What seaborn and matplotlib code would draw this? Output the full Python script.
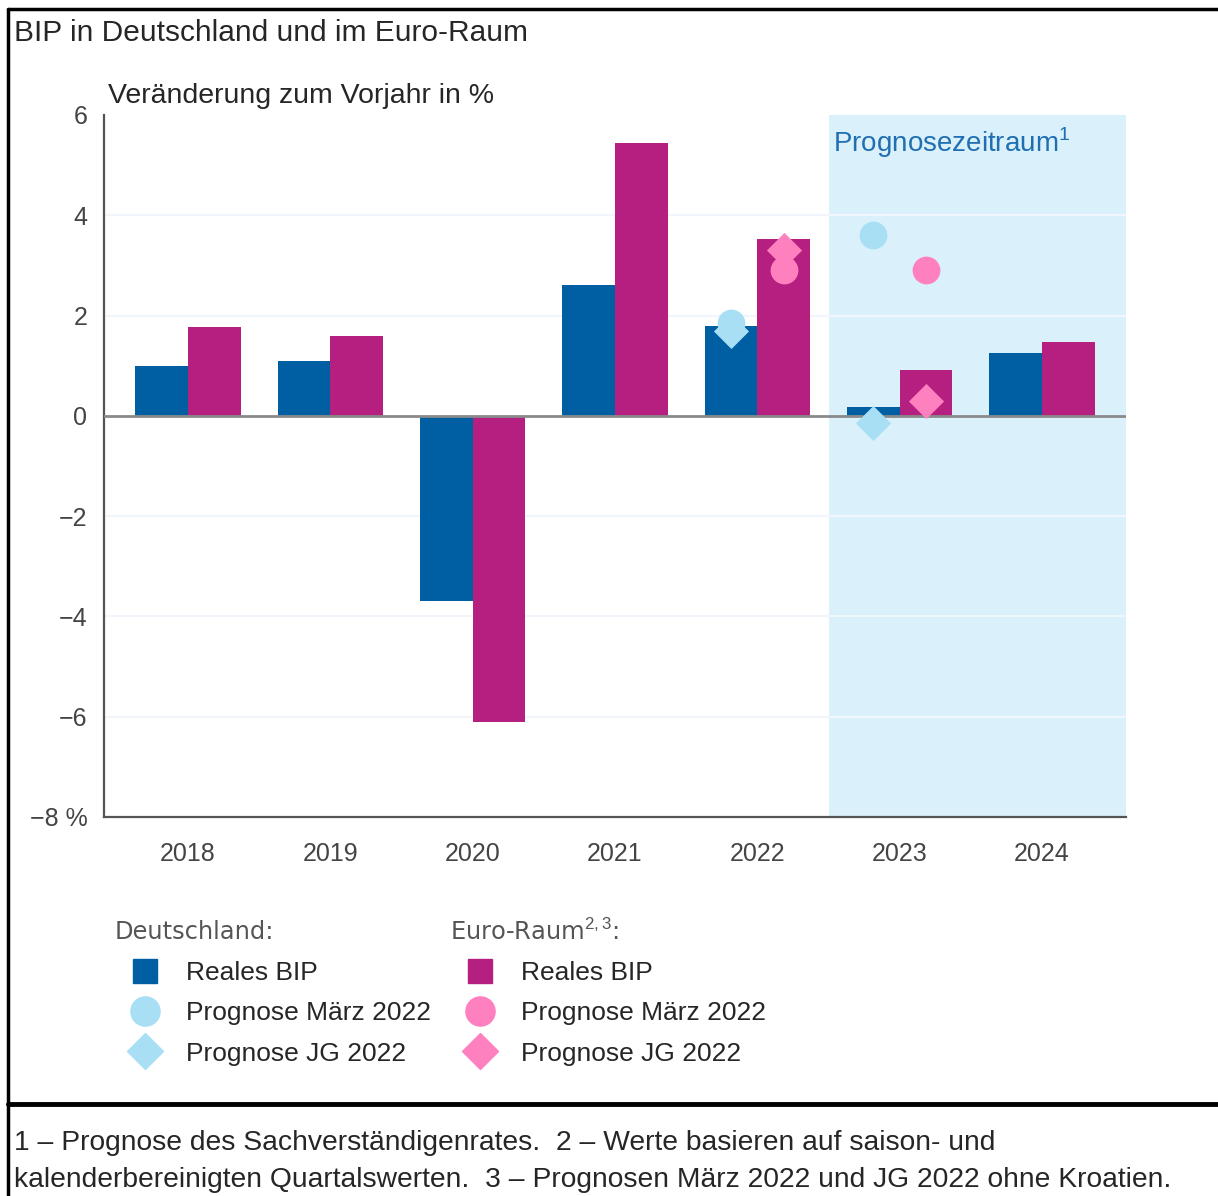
"""BIP in Deutschland und im Euro-Raum: Balken mit Prognosepunkten."""

import matplotlib
matplotlib.use('Agg')
import matplotlib.pyplot as plt
from matplotlib.lines import Line2D
import pandas as pd
import seaborn as sns

# Daten
years = [2018, 2019, 2020, 2021, 2022, 2023, 2024]
de_bip = [1.0, 1.1, -3.7, 2.6, 1.8, 0.18, 1.25]
eu_bip = [1.78, 1.6, -6.1, 5.45, 3.53, 0.92, 1.47]

prog_years = [2022, 2023]
de_maerz = [1.85, 3.6]
de_jg = [1.7, -0.15]
eu_maerz = [2.9, 2.9]
eu_jg = [3.3, 0.3]

yticks = [6, 4, 2, 0, -2, -4, -6, -8]
ytick_labels = ['6', '4', '2', '0', '\u22122', '\u22124', '\u22126', '\u22128 %']

C_DE = '#005fa3'
C_EU = '#b51f80'
C_DE_P = '#a8dff5'
C_EU_P = '#ff80bf'
C_SHADE = '#daf0fa'

sns.set_style('white')
plt.rcParams['font.family'] = ['Liberation Sans', 'DejaVu Sans']
plt.rcParams['mathtext.fontset'] = 'custom'
plt.rcParams['mathtext.rm'] = 'Liberation Sans'

df_bars = pd.DataFrame({
    'Jahr': years * 2,
    'Wert': de_bip + eu_bip,
    'Region': ['Deutschland'] * len(years) + ['Euro-Raum'] * len(years),
})

fig = plt.figure(figsize=(12.18, 11.96), dpi=100)
ax = fig.add_axes([104 / 1218, 1 - 817 / 1196, (1126 - 104) / 1218, (817 - 115) / 1196])

ax.axvspan(2022.5, 2024.6, color=C_SHADE, zorder=0, lw=0)
for y in [4, 2, -2, -4, -6]:
    ax.axhline(y, color='#f1f6fc', lw=1.5, zorder=0.5)

bar_w = 0.74
sns.barplot(data=df_bars, x='Jahr', y='Wert', hue='Region', native_scale=True,
            palette=[C_DE, C_EU], width=bar_w, gap=0, saturation=1,
            legend=False, errorbar=None, ax=ax, zorder=2, linewidth=0,
            edgecolor='none')

ax.axhline(0, color='#8a8a8a', lw=2, zorder=3)

off = bar_w / 4
series = [
    (de_maerz, -off, 'o', C_DE_P, 400),
    (de_jg, -off, 'D', C_DE_P, 320),
    (eu_maerz, off, 'o', C_EU_P, 400),
    (eu_jg, off, 'D', C_EU_P, 320),
]
for vals, dx, mk, col, s in series:
    d = pd.DataFrame({'x': [y + dx for y in prog_years], 'y': vals})
    sns.scatterplot(data=d, x='x', y='y', marker=mk, color=col, s=s,
                    linewidth=0, ax=ax, zorder=4, legend=False)

ax.set_xlim(2017.41, 2024.59)
ax.set_ylim(-8, 6)
ax.set_xticks(years)
ax.set_xticklabels([str(y) for y in years])
ax.set_yticks(yticks)
ax.set_yticklabels(ytick_labels)
ax.set_xlabel('')
ax.set_ylabel('')
ax.tick_params(axis='both', labelsize=18, colors='#555555', labelcolor='#444444',
               width=1.5, length=7)
ax.tick_params(axis='x', length=8, pad=10)
ax.tick_params(axis='y', pad=5)
for side in ['top', 'right']:
    ax.spines[side].set_visible(False)
for side in ['left', 'bottom']:
    ax.spines[side].set_color('#555555')
    ax.spines[side].set_linewidth(1.6)

ax.text(2022.53, 5.45, 'Prognosezeitraum$^1$', color='#1f6fb2', fontsize=20,
        va='center', ha='left', zorder=5)

# Titel und Achsenbeschriftung
fig.text(14 / 1218, 1 - 33 / 1196, 'BIP in Deutschland und im Euro-Raum',
         fontsize=21.5, va='center', ha='left')
fig.text(108 / 1218, 1 - 96 / 1196, 'Veränderung zum Vorjahr in %',
         fontsize=20.5, va='center', ha='left')

# Legende
labels = ['Reales BIP', 'Prognose März 2022', 'Prognose JG 2022']


def handles(bar_c, prog_c):
    return [
        Line2D([], [], ls='', marker='s', color=bar_c, markersize=17),
        Line2D([], [], ls='', marker='o', color=prog_c, markersize=21),
        Line2D([], [], ls='', marker='D', color=prog_c, markersize=18),
    ]


for x0, hx, head, bc, pc in [(115, 128, 'Deutschland:', C_DE, C_DE_P),
                             (450, 463, 'Euro-Raum$^{2,3}$:', C_EU, C_EU_P)]:
    fig.text(x0 / 1218, 1 - 932 / 1196, head, fontsize=17.4, color='#555555',
             family='DejaVu Sans', va='center', ha='left')
    fig.legend(handles(bc, pc), labels, loc='upper left',
               bbox_to_anchor=(hx / 1218, 1 - 961 / 1196), frameon=False,
               borderpad=0, borderaxespad=0, handlelength=1.3, handletextpad=0.9,
               labelspacing=0.62, fontsize=19)

# Fussnote
fig.text(14 / 1218, 1 - 1143 / 1196,
         '1 \u2013 Prognose des Sachverständigenrates.  2 \u2013 Werte basieren auf saison- und',
         fontsize=20.3, va='center', ha='left')
fig.text(14 / 1218, 1 - 1180 / 1196,
         'kalenderbereinigten Quartalswerten.  3 \u2013 Prognosen März 2022 und JG 2022 ohne Kroatien.',
         fontsize=20.3, va='center', ha='left')

# Rahmenlinien
fig.add_artist(Line2D([8 / 1218, 1], [1 - 9 / 1196] * 2, color='black', lw=2.5))
fig.add_artist(Line2D([8 / 1218] * 2, [0, 1 - 9 / 1196], color='black', lw=2.5))
fig.add_artist(Line2D([8 / 1218, 1], [1 - 1104 / 1196] * 2, color='black', lw=3.5))

fig.savefig('out.png', dpi=100)
